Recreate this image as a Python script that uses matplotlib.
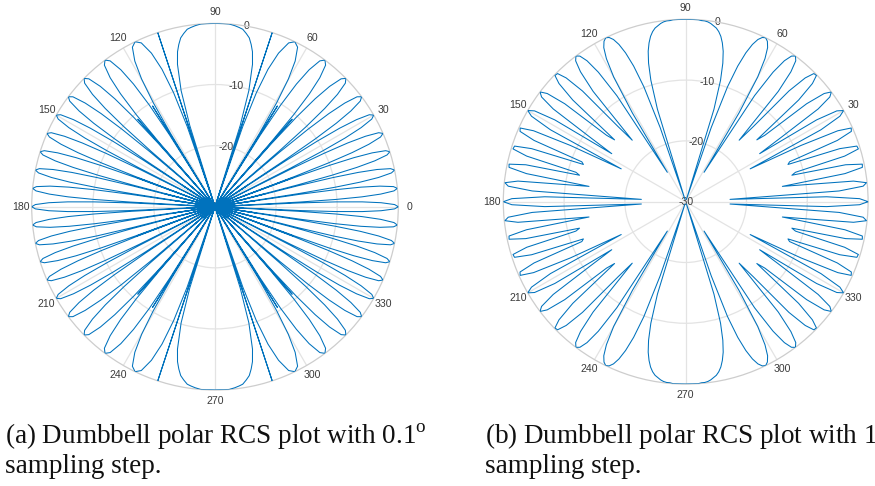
import numpy as np
import matplotlib
matplotlib.use("Agg")
import matplotlib.pyplot as plt

plt.rcParams["font.family"] = ["Liberation Sans", "DejaVu Sans"]
plt.rcParams["mathtext.fontset"] = "custom"
plt.rcParams["mathtext.rm"] = "Liberation Serif"

# (a) 0.1 deg sampling, first quadrant only (pattern is symmetric), angle in deg / RCS in dB
a_deg = [0.00, 0.69, 1.38, 1.89, 2.29, 2.58, 2.81, 2.87,
         2.92, 3.15, 3.44, 3.84, 4.36, 5.05, 5.74, 6.43, 7.12, 7.64, 8.05, 8.34, 8.57, 8.63,
         8.68, 8.92, 9.21, 9.61, 10.14, 10.84, 11.54, 12.24, 12.94, 13.47, 13.89, 14.18, 14.42, 14.48,
         14.54, 14.77, 15.07, 15.49, 16.02, 16.74, 17.46, 18.18, 18.91, 19.45, 19.88, 20.18, 20.43, 20.49,
         20.55, 20.79, 21.10, 21.53, 22.09, 22.83, 23.58, 24.33, 25.09, 25.66, 26.10, 26.42, 26.68, 26.74,
         26.81, 27.06, 27.39, 27.84, 28.42, 29.21, 30.00, 30.80, 31.60, 32.21, 32.68, 33.02, 33.30, 33.37,
         33.44, 33.71, 34.06, 34.54, 35.17, 36.02, 36.87, 37.73, 38.61, 39.27, 39.79, 40.17, 40.47, 40.54,
         40.62, 40.92, 41.30, 41.84, 42.53, 43.47, 44.43, 45.40, 46.39, 47.14, 47.73, 48.16, 48.50, 48.59,
         48.68, 49.03, 49.46, 50.09, 50.90, 52.00, 53.13, 54.29, 55.49, 56.41, 57.14, 57.67, 58.10, 58.21,
         58.32, 58.76, 59.32, 60.11, 61.16, 62.62, 64.16, 65.78, 67.52, 68.91, 70.05, 70.91, 71.62, 71.81,
         71.99, 72.75, 73.74, 75.24, 76.41, 77.42, 78.52, 79.74, 81.11, 82.31, 83.72, 85.56, 87.44, 90.00]
a_db = [0.0, -0.6, -2.8, -5.9, -10.2, -16.1, -30.1, -34.6,
        -30.1, -16.1, -10.2, -5.9, -2.8, -0.6, 0.0, -0.6, -2.8, -5.9, -10.2, -16.1, -30.1, -36.7,
        -30.1, -16.1, -10.2, -5.9, -2.8, -0.6, 0.0, -0.6, -2.8, -5.9, -10.2, -16.1, -30.1, -38.5,
        -30.1, -16.1, -10.2, -5.9, -2.8, -0.6, 0.0, -0.6, -2.8, -5.9, -10.2, -16.1, -30.1, -43.7,
        -30.1, -16.1, -10.2, -5.9, -2.8, -0.6, 0.0, -0.6, -2.8, -5.9, -10.2, -16.1, -30.1, -33.4,
        -30.1, -16.1, -10.2, -5.9, -2.8, -0.6, 0.0, -0.6, -2.8, -5.9, -10.2, -16.1, -30.1, -36.4,
        -30.1, -16.1, -10.2, -5.9, -2.8, -0.6, 0.0, -0.6, -2.8, -5.9, -10.2, -16.1, -30.1, -35.2,
        -30.1, -16.1, -10.2, -5.9, -2.8, -0.6, 0.0, -0.6, -2.8, -5.9, -10.2, -16.1, -30.1, -49.1,
        -30.1, -16.1, -10.2, -5.9, -2.8, -0.6, 0.0, -0.6, -2.8, -5.9, -10.2, -16.1, -30.1, -49.4,
        -30.1, -16.1, -10.2, -5.9, -2.8, -0.6, 0.0, -0.6, -2.8, -5.9, -10.2, -16.1, -30.1, -61.1,
        -30.1, -16.1, -10.2, -5.9, -3.9, -2.8, -1.8, -1.2, -0.6, -0.4, -0.2, -0.0, -0.0, 0.0]

# (b) 1 deg sampling, 0..90 deg
b_deg = list(range(91))
b_db = [0.0, -1.4, -6.8, -22.7, -4.7, -0.7, -0.1, -2.2, -9.5, -13.9, -3.4, -0.4, -0.3, -3.0, -12.0, -11.3,
        -2.8, -0.3, -0.4, -3.2, -12.1, -11.7, -3.1, -0.4, -0.2, -2.4, -8.9, -18.1, -4.8, -1.0, 0.0, -1.0,
        -4.6, -15.5, -10.9, -3.4, -0.7, -0.0, -1.1, -4.4, -13.0, -14.5, -5.0, -1.5, -0.1, -0.2, -1.7, -5.1,
        -13.4, -16.6, -6.3, -2.5, -0.6, -0.0, -0.4, -1.7, -4.3, -9.2, -24.3, -13.0, -6.3, -3.1, -1.3, -0.4,
        -0.0, -0.2, -0.8, -1.9, -3.6, -6.1, -9.9, -17.1, -29.6, -14.1, -9.2, -6.4, -4.5, -3.2, -2.2, -1.5,
        -1.0, -0.7, -0.4, -0.2, -0.1, -0.1, -0.0, -0.0, -0.0, -0.0, 0.0]

R_MIN = -30
theta_ticks = list(range(0, 360, 30))
r_ticks = [-30, -20, -10, 0]
captions = [(r"(a) Dumbbell polar RCS plot with 0.1$^{\mathrm{o}}$", "sampling step."),
            (r"(b) Dumbbell polar RCS plot with 1$^{\mathrm{o}}$", "sampling step.")]


def full_circle(deg, vals):
    # mirror the quadrant about 90 and 180 deg
    deg = np.asarray(deg, float)
    vals = np.asarray(vals, float)
    th = np.concatenate([deg, 180 - deg[::-1][1:], 180 + deg[1:], 360 - deg[::-1][1:]])
    v = np.concatenate([vals, vals[::-1][1:], vals[1:], vals[::-1][1:]])
    r = v - R_MIN
    # below the limit the radius goes negative and lands on the far side
    th = np.where(r < 0, th + 180, th)
    return np.radians(th), np.abs(r)


def setup(ax):
    ax.set_theta_zero_location("E")
    ax.set_rlim(0, -R_MIN)
    ax.set_thetagrids(theta_ticks, [str(t) for t in theta_ticks])
    ax.set_rgrids([10, 20], labels=["", ""])
    ax.set_axisbelow(True)
    ax.grid(color="#e3e3e3", lw=0.9)
    ax.spines["polar"].set_color("#cdcdcd")
    ax.spines["polar"].set_linewidth(0.9)
    ax.tick_params(axis="x", size=0, pad=1, labelsize=7.6, labelcolor="#3a3a3a")
    for r in r_ticks:
        ax.text(np.radians(80), r - R_MIN, str(r), ha="center", va="center",
                fontsize=7.6, color="#3a3a3a", zorder=1)


fig = plt.figure(figsize=(8.75, 4.86), dpi=100)
ax1 = fig.add_axes([0.0362, 0.1975, 0.419, 0.7543], projection="polar")
ax2 = fig.add_axes([0.5752, 0.2097, 0.4169, 0.7506], projection="polar")
for ax, (deg, vals) in zip([ax1, ax2], [(a_deg, a_db), (b_deg, b_db)]):
    setup(ax)
    th, r = full_circle(deg, vals)
    ax.plot(th, r, color="#0072BD", lw=0.75, zorder=3)

cap = dict(family=["Liberation Serif"], fontsize=19.5, va="baseline", color="#111111")
for x, (line1, line2) in zip([5, 485], captions):
    fig.text(x / 875, 1 - 443 / 486, line1, **cap)
    fig.text(x / 875, 1 - 473 / 486, line2, **cap)

fig.savefig("out.png")
